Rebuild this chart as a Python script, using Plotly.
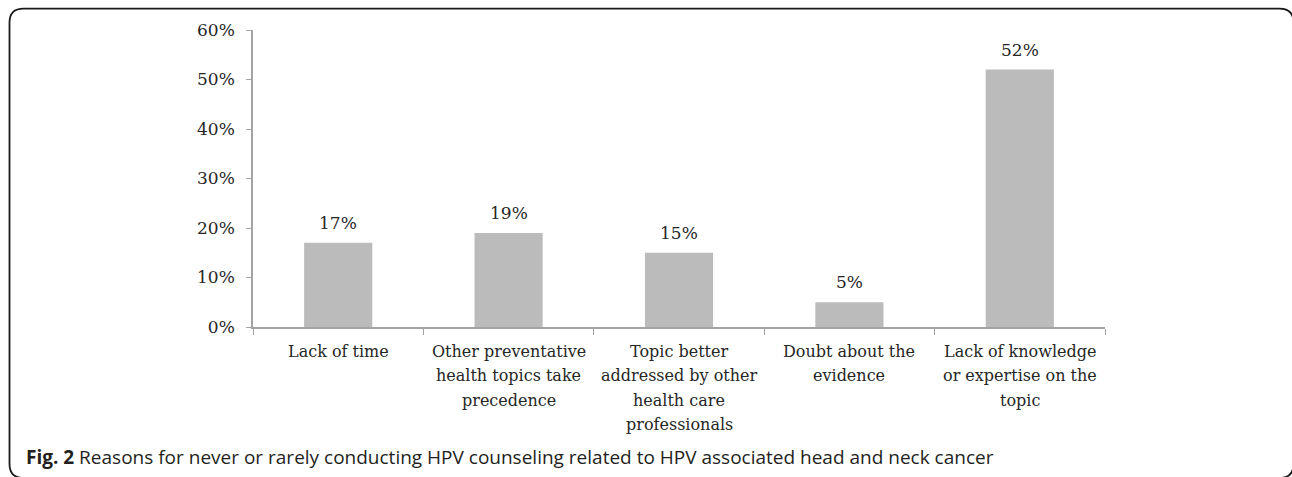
import plotly.graph_objects as go

# Survey results: reasons for rarely/never counseling on HPV
categories = [
    "Lack of time",
    "Other preventative health topics take precedence",
    "Topic better addressed by other health care professionals",
    "Doubt about the evidence",
    "Lack of knowledge or expertise on the topic",
]
category_lines = [
    ["Lack of time"],
    ["Other preventative", "health topics take", "precedence"],
    ["Topic better", "addressed by other", "health care", "professionals"],
    ["Doubt about the", "evidence"],
    ["Lack of knowledge", "or expertise on the", "topic"],
]
percent = [17, 19, 15, 5, 52]
y_ticks = [0, 10, 20, 30, 40, 50, 60]
caption = ("<b>Fig. 2</b> Reasons for never or rarely conducting HPV counseling "
           "related to HPV associated head and neck cancer")

W, H = 1292, 477
L, R, T, B = 253, 1105, 29.5, 327.5  # plot area in pixels

def px(x):
    return (x - L) / (R - L)

def py(y):
    return (B - y) / (B - T)

SERIF = "DejaVu Serif"
AXIS_GREY = "#a3a3a3"
TEXT = "#262626"

fig = go.Figure(go.Bar(
    x=categories,
    y=percent,
    width=0.4,
    marker=dict(color="#bbbbbb", line=dict(width=0)),
    hoverinfo="skip",
))

# value labels above each bar
for c, v in zip(categories, percent):
    fig.add_annotation(
        x=c, y=v, xref="x", yref="y",
        text=f"{v}%", showarrow=False,
        yanchor="bottom", yshift=8,
        font=dict(family=SERIF, size=17, color=TEXT),
    )

# wrapped category labels under the axis, with a looser line spacing
LINE_Y0, LINE_STEP = 352, 24.5
for c, lines in zip(categories, category_lines):
    for i, line in enumerate(lines):
        fig.add_annotation(
            x=c, y=py(LINE_Y0 + i * LINE_STEP), xref="x", yref="paper",
            text=line, showarrow=False,
            xanchor="center", yanchor="middle",
            font=dict(family=SERIF, size=16, color=TEXT),
        )

# caption beneath the chart
fig.add_annotation(
    x=px(24), y=py(458), xref="paper", yref="paper",
    xanchor="left", yanchor="middle",
    text=caption, showarrow=False,
    font=dict(family="Open Sans", size=19, color="#231f20"),
)

# rounded frame around the figure (right and bottom edges run off the page)
fl, ft, fr, fb, rad = 9.5, 8, 1293.5, 479, 14
path = (
    f"M {px(fl + rad)},{py(ft)} "
    f"L {px(fr - rad)},{py(ft)} "
    f"Q {px(fr)},{py(ft)} {px(fr)},{py(ft + rad)} "
    f"L {px(fr)},{py(fb - rad)} "
    f"Q {px(fr)},{py(fb)} {px(fr - rad)},{py(fb)} "
    f"L {px(fl + rad)},{py(fb)} "
    f"Q {px(fl)},{py(fb)} {px(fl)},{py(fb - rad)} "
    f"L {px(fl)},{py(ft + rad)} "
    f"Q {px(fl)},{py(ft)} {px(fl + rad)},{py(ft)} Z"
)
fig.add_shape(type="path", path=path, xref="paper", yref="paper",
              line=dict(color="#1a1a1a", width=1.8), layer="above")

fig.update_layout(
    width=W, height=H,
    margin=dict(l=L, r=W - R, t=T, b=H - B),
    paper_bgcolor="white", plot_bgcolor="white",
    showlegend=False,
    bargap=0.6,
    xaxis=dict(
        type="category",
        showline=True, linecolor=AXIS_GREY, linewidth=1.5,
        ticks="outside", tickson="boundaries", ticklen=6,
        tickcolor=AXIS_GREY, tickwidth=1,
        showgrid=False, zeroline=False,
        showticklabels=False,
    ),
    yaxis=dict(
        range=[0, 60],
        tickvals=y_ticks, ticktext=[f"{t}%" for t in y_ticks],
        showline=True, linecolor=AXIS_GREY, linewidth=1.5,
        ticks="outside", ticklen=5, tickcolor=AXIS_GREY, tickwidth=1,
        showgrid=False, zeroline=False,
        tickfont=dict(family=SERIF, size=17, color=TEXT),
        ticklabelstandoff=8,
    ),
)

fig.write_html("out.html")
